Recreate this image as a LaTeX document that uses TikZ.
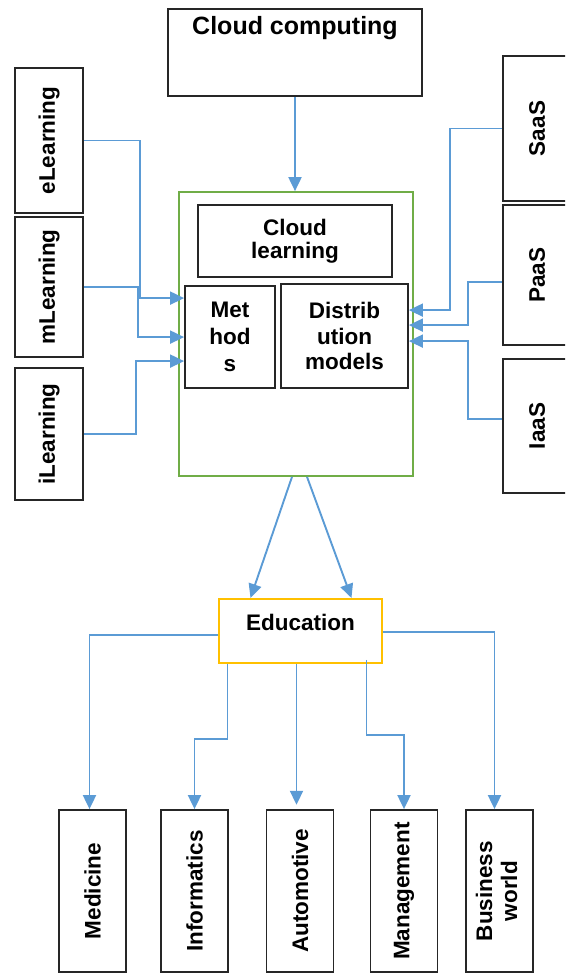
\documentclass[tikz,border=0pt]{standalone}
\usepackage{fontspec}
\setmainfont{Liberation Sans}
\usetikzlibrary{arrows.meta,calc,positioning}
\definecolor{arrowblue}{RGB}{91,155,213}
\definecolor{framegreen}{RGB}{112,173,71}
\definecolor{eduorange}{RGB}{255,192,0}

\begin{document}
\begin{tikzpicture}[x=1pt,y=-1pt,
  box/.style={draw=black!85,line width=1.8pt,inner sep=0pt,align=center,
    font=\fontsize{22.5}{25}\selectfont\bfseries},
  sidebox/.style={box,minimum width=68pt,minimum height=#1},
  downbox/.style={box,minimum width=67pt,minimum height=162pt},
  arr/.style={draw=arrowblue,line width=1.9pt,-{Triangle[length=14pt,width=13pt]}}]
\useasboundingbox (0,0) rectangle (565,974);
\clip (0,0) rectangle (565,974);

\node[box,font=\fontsize{25}{29}\selectfont\bfseries,minimum width=254pt,
  text height=26pt,text depth=61pt,anchor=north] (cc) at (295,8) {Cloud computing};
\node[draw=framegreen,line width=1.7pt,minimum width=234pt,minimum height=284pt] (frame) at (296,334) {};
\node[box,font=\fontsize{22.5}{23}\selectfont\bfseries,minimum width=194pt,minimum height=72pt] (cl) at (295,241) {Cloud\\learning};
\node[box,font=\fontsize{22.5}{27}\selectfont\bfseries,minimum width=90pt,minimum height=102pt] (meth) at (230,337) {Met\\hod\\s};
\node[box,font=\fontsize{22.5}{25.5}\selectfont\bfseries,minimum width=127pt,minimum height=104pt] (dist) at (344.5,336) {Distrib\\ution\\models};

\node[sidebox=145pt] (elearn) at (49,140.5) {\rotatebox{90}{eLearning}};
\node[sidebox=140pt] (mlearn) at (49,287) {\rotatebox{90}{mLearning}};
\node[sidebox=132pt] (ilearn) at (49,434) {\rotatebox{90}{iLearning}};

\node[sidebox=145pt] (saas) at (537,128.5) {\rotatebox{90}{SaaS}};
\node[sidebox=140pt] (paas) at (537,275) {\rotatebox{90}{PaaS}};
\node[sidebox=134pt] (iaas) at (537,426) {\rotatebox{90}{IaaS}};

\node[box,draw=eduorange,minimum width=163pt,text height=32pt,text depth=32pt,anchor=north] (edu) at (300.5,598) {Education};

\node[downbox] (med) at (92.5,891) {\rotatebox{90}{Medicine}};
\node[downbox] (inf) at (194.5,891) {\rotatebox{90}{Informatics}};
\node[downbox] (auto) at (300,891) {\rotatebox{90}{Automotive}};
\node[downbox] (mgmt) at (404,891) {\rotatebox{90}{Management}};
\node[downbox] (bus) at (499.5,891) {\rotatebox{90}{\begin{tabular}{@{}c@{}}Business\\world\end{tabular}}};

\draw[arr] (cc.south) -- (cc.south |- frame.north);

\draw[arr] (elearn.east) -- ++(56,0) |- ($(meth.north west)+(0,13)$);
\draw[arr] (mlearn.east) -- ++(54,0) |- ($(meth.north west)+(0,52)$);
\draw[arr] (ilearn.east) -- ++(52,0) |- ($(meth.north west)+(0,76)$);

\draw[arr] (saas.west) -- ++(-52,0) |- ($(dist.north east)+(0,27)$);
\draw[arr] ($(paas.west)+(0,7)$) -- ++(-34,0) |- ($(dist.north east)+(0,42)$);
\draw[arr] ($(iaas.west)+(0,-7)$) -- ++(-34,0) |- ($(dist.north east)+(0,58)$);

\draw[arr] ($(frame.south)+(-4,0)$) -- ($(edu.north)+(-50,0)$);
\draw[arr] ($(frame.south)+(11,0)$) -- ($(edu.north)+(51,0)$);

\draw[arr] ($(edu.west)+(0,4)$) -| ($(med.north)+(-3,0)$);
\draw[arr] ($(edu.south)+(-73,0)$) -- ++(0,75) -| (inf.north);
\draw[arr] ($(edu.south)+(-4,0)$) -- ++(0,141);
\draw[arr] ($(edu.south)+(66,-4)$) -- ++(0,75) -| (mgmt.north);
\draw[arr] ($(edu.east)+(0,1)$) -| ($(bus.north)+(-5,0)$);
\end{tikzpicture}
\end{document}
